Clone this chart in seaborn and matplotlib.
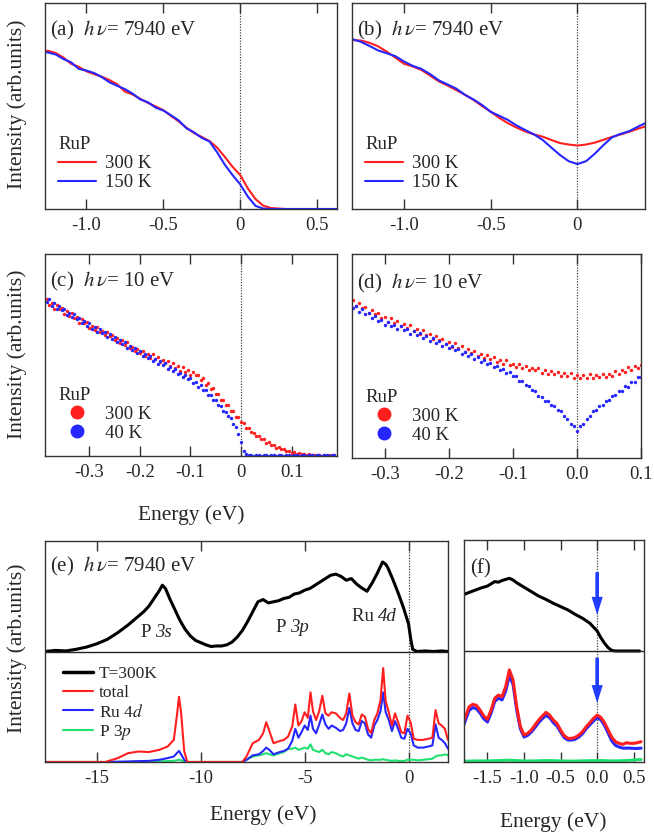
import numpy as np
import matplotlib
matplotlib.use("Agg")
import matplotlib.pyplot as plt
from matplotlib.lines import Line2D
import seaborn as sns

# ---------------- data (intensity as fraction of panel height) ----------------
# (a) hv = 7940 eV, raw EDCs
e_a = np.round(np.linspace(-1.30, 0.65, 40), 3)
a_300 = [0.765, 0.768, 0.757, 0.735, 0.705, 0.690, 0.668, 0.655, 0.642, 0.626,
         0.605, 0.570, 0.556, 0.535, 0.515, 0.498, 0.480, 0.452, 0.425, 0.395,
         0.368, 0.350, 0.330, 0.298, 0.253, 0.205, 0.165, 0.100, 0.048, 0.016,
         0.005, 0.002, 0.0, 0.0, 0.0, 0.0, 0.0, 0.0, 0.0, 0.0]
a_150 = [0.762, 0.760, 0.750, 0.728, 0.712, 0.680, 0.672, 0.660, 0.640, 0.615,
         0.598, 0.582, 0.560, 0.532, 0.518, 0.492, 0.478, 0.455, 0.430, 0.392,
         0.372, 0.345, 0.328, 0.275, 0.215, 0.165, 0.120, 0.060, 0.015, 0.002,
         0.0, 0.0, 0.0, 0.0, 0.0, 0.0, 0.0, 0.0, 0.0, 0.0]

# (b) hv = 7940 eV, symmetrized
e_b = np.round(np.linspace(-1.30, 0.40, 35), 3)
b_300 = [0.820, 0.818, 0.807, 0.790, 0.764, 0.735, 0.705, 0.692, 0.675, 0.648,
         0.620, 0.600, 0.578, 0.555, 0.530, 0.500, 0.472, 0.442, 0.416, 0.395,
         0.376, 0.362, 0.351, 0.335, 0.320, 0.313, 0.308, 0.313, 0.322, 0.336,
         0.350, 0.362, 0.375, 0.390, 0.403]
b_150 = [0.825, 0.812, 0.792, 0.770, 0.756, 0.742, 0.716, 0.695, 0.680, 0.655,
         0.625, 0.605, 0.585, 0.555, 0.532, 0.505, 0.472, 0.452, 0.432, 0.405,
         0.383, 0.362, 0.335, 0.298, 0.262, 0.232, 0.218, 0.232, 0.268, 0.310,
         0.348, 0.365, 0.378, 0.400, 0.420]

# (c) hv = 10 eV, raw
e_c = np.round(np.linspace(-0.385, 0.185, 115), 3)
c_300 = [0.775, 0.746, 0.757, 0.729, 0.749, 0.726, 0.733, 0.703, 0.717, 0.693,
         0.706, 0.682, 0.686, 0.660, 0.676, 0.657, 0.664, 0.635, 0.643, 0.622,
         0.637, 0.614, 0.621, 0.597, 0.614, 0.593, 0.599, 0.575, 0.583, 0.559,
         0.573, 0.551, 0.562, 0.534, 0.540, 0.518, 0.532, 0.510, 0.518, 0.493,
         0.506, 0.487, 0.503, 0.481, 0.489, 0.464, 0.477, 0.459, 0.470, 0.446,
         0.461, 0.438, 0.446, 0.422, 0.441, 0.417, 0.425, 0.403, 0.417, 0.401,
         0.401, 0.375, 0.384, 0.353, 0.359, 0.333, 0.337, 0.308, 0.308, 0.279,
         0.279, 0.254, 0.253, 0.224, 0.222, 0.195, 0.191, 0.166, 0.163, 0.140,
         0.138, 0.117, 0.115, 0.098, 0.099, 0.083, 0.082, 0.066, 0.068, 0.055,
         0.055, 0.042, 0.043, 0.033, 0.033, 0.024, 0.024, 0.016, 0.018, 0.012,
         0.014, 0.008, 0.010, 0.006, 0.008, 0.004, 0.006, 0.003, 0.005, 0.002,
         0.004, 0.002, 0.003, 0.001, 0.003]
c_40 = [0.762, 0.775, 0.745, 0.755, 0.727, 0.744, 0.721, 0.727, 0.699, 0.710,
        0.687, 0.702, 0.678, 0.684, 0.656, 0.667, 0.646, 0.657, 0.629, 0.637,
        0.613, 0.629, 0.608, 0.614, 0.589, 0.604, 0.580, 0.587, 0.562, 0.575,
        0.555, 0.562, 0.533, 0.544, 0.523, 0.535, 0.512, 0.518, 0.493, 0.505,
        0.486, 0.496, 0.471, 0.479, 0.457, 0.470, 0.452, 0.459, 0.433, 0.442,
        0.422, 0.432, 0.406, 0.413, 0.390, 0.402, 0.382, 0.387, 0.363, 0.368,
        0.343, 0.351, 0.329, 0.328, 0.302, 0.301, 0.277, 0.275, 0.250, 0.247,
        0.223, 0.218, 0.196, 0.186, 0.158, 0.143, 0.109, 0.068, 0.027, 0.010,
        0.007, 0.004, 0.002, 0.003, 0.005, 0.002, 0.003, 0.004, 0.002, 0.003,
        0.004, 0.002, 0.003, 0.005, 0.002, 0.003, 0.004, 0.002, 0.003, 0.004,
        0.002, 0.003, 0.005, 0.002, 0.003, 0.004, 0.002, 0.003, 0.004, 0.002,
        0.003, 0.004, 0.002, 0.003, 0.004]

# (d) hv = 10 eV, symmetrized
e_d = np.round(np.linspace(-0.35, 0.10, 91), 3)
d_300 = [0.773, 0.747, 0.761, 0.735, 0.742, 0.713, 0.725, 0.705, 0.713, 0.685,
         0.692, 0.669, 0.686, 0.664, 0.671, 0.646, 0.658, 0.639, 0.650, 0.625,
         0.632, 0.610, 0.626, 0.602, 0.609, 0.583, 0.598, 0.577, 0.584, 0.559,
         0.568, 0.546, 0.562, 0.540, 0.547, 0.521, 0.535, 0.516, 0.526, 0.502,
         0.511, 0.489, 0.504, 0.486, 0.496, 0.472, 0.482, 0.461, 0.478, 0.456,
         0.463, 0.444, 0.459, 0.440, 0.451, 0.429, 0.443, 0.429, 0.440, 0.417,
         0.429, 0.411, 0.426, 0.411, 0.423, 0.401, 0.415, 0.400, 0.415, 0.394,
         0.405, 0.390, 0.409, 0.394, 0.412, 0.393, 0.409, 0.398, 0.413, 0.395,
         0.411, 0.402, 0.425, 0.414, 0.433, 0.420, 0.445, 0.433, 0.451, 0.439,
         0.458]
d_40 = [0.735, 0.745, 0.716, 0.730, 0.706, 0.711, 0.684, 0.696, 0.674, 0.678,
        0.652, 0.668, 0.646, 0.654, 0.633, 0.647, 0.627, 0.634, 0.610, 0.622,
        0.604, 0.615, 0.590, 0.597, 0.575, 0.588, 0.566, 0.574, 0.549, 0.559,
        0.539, 0.548, 0.528, 0.534, 0.510, 0.519, 0.499, 0.509, 0.487, 0.494,
        0.471, 0.479, 0.460, 0.466, 0.444, 0.449, 0.430, 0.436, 0.416, 0.420,
        0.403, 0.401, 0.379, 0.377, 0.357, 0.354, 0.333, 0.327, 0.306, 0.301,
        0.281, 0.277, 0.258, 0.253, 0.234, 0.230, 0.205, 0.192, 0.167, 0.155,
        0.132, 0.155, 0.166, 0.191, 0.204, 0.229, 0.235, 0.255, 0.260, 0.280,
        0.286, 0.306, 0.308, 0.329, 0.329, 0.351, 0.350, 0.374, 0.373, 0.397,
        0.396]

# (e) valence band (upper half) and calculated DOS (lower half)
e_spec = [-17.5, -17.0, -16.5, -16.0, -15.5, -15.0, -14.5, -14.0, -13.5, -13.0,
          -12.75, -12.5, -12.25, -12.0, -11.85, -11.7, -11.5, -11.25, -11.0, -10.75,
          -10.5, -10.25, -10.0, -9.75, -9.5, -9.25, -9.0, -8.75, -8.5, -8.25,
          -8.0, -7.75, -7.5, -7.25, -7.0, -6.75, -6.5, -6.25, -6.0, -5.75,
          -5.5, -5.25, -5.0, -4.75, -4.5, -4.25, -4.0, -3.75, -3.5, -3.25,
          -3.0, -2.75, -2.5, -2.25, -2.0, -1.75, -1.5, -1.25, -1.1, -1.0,
          -0.75, -0.5, -0.25, 0.0, 0.1, 0.2, 0.4, 0.8, 1.2, 1.6,
          1.9]
i_spec = [0.00, 0.01, 0.005, 0.02, 0.04, 0.07, 0.11, 0.17, 0.24, 0.32,
          0.36, 0.41, 0.48, 0.55, 0.60, 0.57, 0.48, 0.38, 0.28, 0.20,
          0.14, 0.10, 0.08, 0.06, 0.045, 0.05, 0.05, 0.06, 0.085, 0.13,
          0.19, 0.27, 0.36, 0.45, 0.47, 0.44, 0.45, 0.46, 0.48, 0.49,
          0.52, 0.53, 0.555, 0.57, 0.60, 0.63, 0.66, 0.69, 0.70, 0.68,
          0.645, 0.66, 0.61, 0.575, 0.545, 0.62, 0.71, 0.81, 0.79, 0.76,
          0.65, 0.53, 0.40, 0.25, 0.12, 0.02, 0.0, 0.005, 0.0, 0.005,
          0.0]

e_dos = [-17.5, -14.6, -14.0, -13.5, -13.0, -12.5, -12.0, -11.6, -11.3, -11.15,
         -11.05, -10.95, -10.8, -10.65, -8.0, -7.8, -7.5, -7.2, -7.0, -6.85,
         -6.7, -6.5, -6.2, -6.0, -5.8, -5.6, -5.45, -5.3, -5.15, -5.0,
         -4.85, -4.72, -4.6, -4.45, -4.3, -4.15, -4.0, -3.85, -3.7, -3.5,
         -3.3, -3.15, -3.0, -2.85, -2.7, -2.55, -2.4, -2.25, -2.1, -1.95,
         -1.8, -1.65, -1.5, -1.35, -1.22, -1.1, -0.95, -0.8, -0.65, -0.5,
         -0.35, -0.2, -0.05, 0.1, 0.25, 0.45, 0.7, 0.95, 1.15, 1.3,
         1.45, 1.6, 1.75, 1.9]
dos_total = [0, 0, 0.035, 0.08, 0.095, 0.09, 0.11, 0.14, 0.20, 0.42,
             0.59, 0.45, 0.10, 0, 0, 0.05, 0.17, 0.20, 0.26, 0.36,
             0.28, 0.17, 0.19, 0.20, 0.23, 0.32, 0.52, 0.33, 0.37, 0.45,
             0.40, 0.63, 0.46, 0.38, 0.46, 0.60, 0.44, 0.42, 0.45, 0.44,
             0.40, 0.38, 0.44, 0.62, 0.42, 0.36, 0.34, 0.43, 0.41, 0.30,
             0.26, 0.38, 0.44, 0.56, 0.85, 0.55, 0.45, 0.33, 0.44, 0.36,
             0.27, 0.26, 0.42, 0.36, 0.21, 0.20, 0.20, 0.21, 0.22, 0.47,
             0.35, 0.33, 0.30, 0.20]
dos_ru4d = [0, 0, 0.003, 0.005, 0.008, 0.01, 0.02, 0.035, 0.05, 0.08,
            0.10, 0.07, 0.02, 0, 0, 0.02, 0.06, 0.07, 0.10, 0.13,
            0.11, 0.07, 0.09, 0.10, 0.12, 0.19, 0.30, 0.22, 0.27, 0.33,
            0.29, 0.42, 0.30, 0.26, 0.34, 0.43, 0.34, 0.30, 0.33, 0.31,
            0.28, 0.29, 0.35, 0.49, 0.35, 0.29, 0.28, 0.37, 0.35, 0.25,
            0.22, 0.33, 0.38, 0.46, 0.63, 0.45, 0.38, 0.28, 0.37, 0.30,
            0.22, 0.21, 0.30, 0.26, 0.15, 0.13, 0.13, 0.14, 0.15, 0.34,
            0.22, 0.20, 0.17, 0.12]
dos_p3p = [0, 0, 0, 0, 0.003, 0.003, 0.005, 0.008, 0.01, 0.015,
           0.02, 0.015, 0.005, 0, 0, 0.02, 0.05, 0.06, 0.07, 0.08,
           0.07, 0.06, 0.08, 0.09, 0.12, 0.12, 0.13, 0.11, 0.12, 0.13,
           0.12, 0.16, 0.11, 0.10, 0.09, 0.11, 0.08, 0.07, 0.09, 0.08,
           0.06, 0.05, 0.07, 0.06, 0.05, 0.04, 0.03, 0.04, 0.03, 0.02,
           0.015, 0.02, 0.02, 0.02, 0.025, 0.02, 0.015, 0.01, 0.015, 0.01,
           0.01, 0.01, 0.02, 0.02, 0.02, 0.015, 0.02, 0.025, 0.03, 0.05,
           0.06, 0.06, 0.07, 0.06]

# (f) zoom near E_F
e_fspec = [-1.82, -1.7, -1.6, -1.5, -1.4, -1.35, -1.3, -1.2, -1.15, -1.1,
           -1.0, -0.9, -0.8, -0.7, -0.6, -0.5, -0.4, -0.3, -0.2, -0.1,
           0.0, 0.05, 0.1, 0.15, 0.2, 0.25, 0.4, 0.58]
i_fspec = [0.51, 0.54, 0.565, 0.585, 0.625, 0.62, 0.635, 0.655, 0.64, 0.615,
           0.575, 0.535, 0.495, 0.465, 0.43, 0.40, 0.37, 0.33, 0.295, 0.25,
           0.18, 0.12, 0.07, 0.03, 0.005, 0.0, 0.0, 0.0]
e_fdos = [-1.82, -1.75, -1.7, -1.65, -1.6, -1.55, -1.5, -1.45, -1.4, -1.35,
          -1.3, -1.25, -1.2, -1.15, -1.1, -1.05, -1.0, -0.95, -0.9, -0.85,
          -0.8, -0.75, -0.7, -0.65, -0.6, -0.55, -0.5, -0.45, -0.4, -0.35,
          -0.3, -0.25, -0.2, -0.15, -0.1, -0.05, 0.0, 0.05, 0.1, 0.15,
          0.2, 0.25, 0.3, 0.35, 0.4, 0.45, 0.5, 0.55, 0.6]
f_total = [0.372, 0.498, 0.52, 0.51, 0.468, 0.414, 0.385, 0.468, 0.573, 0.603,
           0.588, 0.68, 0.83, 0.74, 0.50, 0.32, 0.243, 0.258, 0.288, 0.333,
           0.378, 0.414, 0.447, 0.423, 0.378, 0.348, 0.288, 0.237, 0.213, 0.213,
           0.222, 0.243, 0.273, 0.318, 0.354, 0.393, 0.423, 0.402, 0.354, 0.288,
           0.222, 0.183, 0.168, 0.159, 0.174, 0.168, 0.168, 0.174, 0.183]
f_ru4d = [0.34, 0.465, 0.49, 0.48, 0.44, 0.39, 0.36, 0.44, 0.545, 0.575,
          0.56, 0.64, 0.78, 0.70, 0.47, 0.30, 0.225, 0.24, 0.27, 0.31,
          0.355, 0.39, 0.42, 0.40, 0.355, 0.325, 0.27, 0.22, 0.198, 0.198,
          0.205, 0.225, 0.255, 0.30, 0.335, 0.37, 0.40, 0.38, 0.33, 0.26,
          0.19, 0.15, 0.135, 0.125, 0.125, 0.125, 0.122, 0.122, 0.125]
f_p3p = [0.008, 0.008, 0.009, 0.009, 0.010, 0.010, 0.010, 0.011, 0.012, 0.013,
         0.014, 0.015, 0.016, 0.015, 0.013, 0.011, 0.010, 0.009, 0.009, 0.010,
         0.011, 0.012, 0.013, 0.013, 0.012, 0.011, 0.010, 0.009, 0.008, 0.008,
         0.008, 0.009, 0.010, 0.011, 0.012, 0.012, 0.013, 0.013, 0.012, 0.011,
         0.010, 0.010, 0.011, 0.012, 0.013, 0.015, 0.018, 0.021, 0.022]

ticks_a = ([-1.0, -0.5, 0, 0.5], ["-1.0", "-0.5", "0", "0.5"])
ticks_b = ([-1.0, -0.5, 0], ["-1.0", "-0.5", "0"])
ticks_c = ([-0.3, -0.2, -0.1, 0, 0.1], ["-0.3", "-0.2", "-0.1", "0", "0.1"])
ticks_d = ([-0.3, -0.2, -0.1, 0, 0.1], ["-0.3", "-0.2", "-0.1", "0.0", "0.1"])
ticks_e = ([-15, -10, -5, 0], ["-15", "-10", "-5", "0"])
ticks_f = ([-1.5, -1.0, -0.5, 0, 0.5], ["-1.5", "-1.0", "-0.5", "0.0", "0.5"])

# ---------------- style ----------------
SERIF = ["Liberation Serif", "DejaVu Serif"]
sns.set_style("ticks")
plt.rcParams["font.family"] = SERIF
plt.rcParams["font.serif"] = SERIF
plt.rcParams["mathtext.fontset"] = "stix"
plt.rcParams["axes.unicode_minus"] = False
plt.rcParams["axes.edgecolor"] = "#333333"
plt.rcParams["axes.linewidth"] = 1.0

RED = "#ff1f1f"
BLUE = "#2626ff"
GREEN = "#20e070"
ARROW = "#1f3cff"

W, H = 654, 836
fig = plt.figure(figsize=(W / 100, H / 100), dpi=100)


def px_axes(x0, y0, x1, y1):
    return fig.add_axes([x0 / W, 1 - y1 / H, (x1 - x0) / W, (y1 - y0) / H])


def style(ax, xlim, ylim, ticks):
    ax.set_xlim(xlim)
    ax.set_ylim(ylim)
    ax.set_xticks(ticks[0], ticks[1], fontfamily=SERIF, fontsize=13.5)
    ax.tick_params(axis="x", direction="in", top=True, bottom=True, length=7,
                   width=1, color="#333333", pad=6)
    ax.tick_params(axis="y", left=False, labelleft=False)
    ax.set_xlabel("")
    ax.set_ylabel("")
    ax.axvline(0, color="#444444", lw=0.9, ls=(0, (1, 1.2)), zorder=0)


def rup_legend(ax, handles, anchor):
    ax.legend(handles=handles, title="RuP", loc="lower left", bbox_to_anchor=anchor,
              frameon=False, prop={"family": SERIF, "size": 13.5},
              title_fontproperties={"family": SERIF, "size": 13.5}, alignment="left",
              handlelength=2.0, handletextpad=0.5, labelspacing=0.1,
              borderaxespad=0, borderpad=0)


def peak_label(ax, x, y, roman, italic):
    ax.text(x, y, roman, fontsize=13.5, ha="right", va="center", family=SERIF)
    ax.text(x, y, italic, fontsize=13.5, ha="left", va="center", family=SERIF,
            style="italic")


ax_a = px_axes(45, 3, 337, 209)
ax_b = px_axes(352, 3, 645, 209)
ax_c = px_axes(45, 254, 337, 456)
ax_d = px_axes(352, 254, 641, 458)
ax_e = px_axes(45, 541, 448, 762)
ax_f = px_axes(464, 540, 644, 762)

# (a)
sns.lineplot(x=e_a, y=a_300, ax=ax_a, color=RED, lw=1.5, legend=False)
sns.lineplot(x=e_a, y=a_150, ax=ax_a, color=BLUE, lw=1.5, legend=False)
style(ax_a, (-1.27, 0.63), (0, 1), ticks_a)
# (b)
sns.lineplot(x=e_b, y=b_300, ax=ax_b, color=RED, lw=1.5, legend=False)
sns.lineplot(x=e_b, y=b_150, ax=ax_b, color=BLUE, lw=1.5, legend=False)
style(ax_b, (-1.30, 0.39), (0, 1), ticks_b)
# (c)
sns.scatterplot(x=e_c, y=c_300, ax=ax_c, color=RED, s=6, linewidth=0, legend=False)
sns.scatterplot(x=e_c, y=c_40, ax=ax_c, color=BLUE, s=6, linewidth=0, legend=False)
style(ax_c, (-0.388, 0.19), (0, 1), ticks_c)
# (d)
sns.scatterplot(x=e_d, y=d_300, ax=ax_d, color=RED, s=6, linewidth=0, legend=False)
sns.scatterplot(x=e_d, y=d_40, ax=ax_d, color=BLUE, s=6, linewidth=0, legend=False)
style(ax_d, (-0.351, 0.10), (0, 1), ticks_d)

for ax in (ax_a, ax_b):
    rup_legend(ax, [Line2D([], [], color=RED, lw=1.5, label="300 K"),
                    Line2D([], [], color=BLUE, lw=1.5, label="150 K")], (0.045, 0.085))
for ax in (ax_c, ax_d):
    rup_legend(ax, [Line2D([], [], color=RED, marker="o", ls="", ms=9, label="300 K"),
                    Line2D([], [], color=BLUE, marker="o", ls="", ms=9, label="40 K")],
               (0.045, 0.07))

ax_a.text(0.017, 0.84, r"(a)  $h\,\nu$= 7940 eV", transform=ax_a.transAxes, fontsize=15, va="baseline")
ax_b.text(0.017, 0.84, r"(b)  $h\,\nu$= 7940 eV", transform=ax_b.transAxes, fontsize=15, va="baseline")
ax_c.text(0.017, 0.837, r"(c)  $h\,\nu$= 10 eV", transform=ax_c.transAxes, fontsize=15, va="baseline")
ax_d.text(0.017, 0.83, r"(d)  $h\,\nu$= 10 eV", transform=ax_d.transAxes, fontsize=15, va="baseline")

# (e)
sns.lineplot(x=e_spec, y=np.array(i_spec) + 1, ax=ax_e, color="black", lw=2.2, legend=False)
sns.lineplot(x=e_dos, y=dos_p3p, ax=ax_e, color=GREEN, lw=1.5, legend=False)
sns.lineplot(x=e_dos, y=dos_ru4d, ax=ax_e, color=BLUE, lw=1.5, legend=False)
sns.lineplot(x=e_dos, y=dos_total, ax=ax_e, color=RED, lw=1.5, legend=False)
style(ax_e, (-17.5, 1.9), (0, 2), ticks_e)
ax_e.axhline(1, color="#222222", lw=1.0)
ax_e.text(0.012, 0.861, r"(e)  $h\,\nu$= 7940 eV", transform=ax_e.transAxes, fontsize=15, va="baseline")
peak_label(ax_e, -12.2, 1.17, "P ", "3s")
peak_label(ax_e, -5.7, 1.215, "P ", "3p")
peak_label(ax_e, -1.45, 1.32, "Ru ", "4d")
ax_e.legend(handles=[Line2D([], [], color="black", lw=2.5, label="T=300K"),
                     Line2D([], [], color=RED, lw=1.5, label="total"),
                     Line2D([], [], color=BLUE, lw=1.5, label=r"Ru 4$\mathit{d}$"),
                     Line2D([], [], color=GREEN, lw=1.5, label=r"P 3$\mathit{p}$")],
            loc="lower left", bbox_to_anchor=(0.045, 0.09), frameon=False,
            prop={"family": SERIF, "size": 12.5},
            handlelength=1.7, handletextpad=0.35, labelspacing=0.15,
            borderaxespad=0, borderpad=0)

# (f)
sns.lineplot(x=e_fspec, y=np.array(i_fspec) + 1, ax=ax_f, color="black", lw=2.2, legend=False)
sns.lineplot(x=e_fdos, y=f_p3p, ax=ax_f, color=GREEN, lw=2.2, legend=False)
sns.lineplot(x=e_fdos, y=f_ru4d, ax=ax_f, color=BLUE, lw=2.2, legend=False)
sns.lineplot(x=e_fdos, y=f_total, ax=ax_f, color=RED, lw=2.2, legend=False)
style(ax_f, (-1.82, 0.64), (0, 2), ticks_f)
ax_f.axhline(1, color="#222222", lw=1.0)
ax_f.text(0.033, 0.85, "(f)", transform=ax_f.transAxes, fontsize=15, va="baseline")
for top, tip in ((1.71, 1.325), (0.94, 0.53)):
    ax_f.annotate("", xy=(0, tip), xytext=(0, top),
                  arrowprops=dict(facecolor=ARROW, edgecolor="none", width=2.6,
                                  headwidth=8, headlength=13, shrink=0))

# shared labels
for yc in (104, 354, 648):
    fig.text(17 / W, 1 - yc / H, "Intensity (arb.units)", rotation=90,
             ha="center", va="center", fontsize=15.5)
for xc, yc in ((191, 515), (263, 815), (553, 822)):
    fig.text(xc / W, 1 - yc / H, "Energy (eV)", ha="center", va="center", fontsize=15.5)

fig.savefig("out.png", dpi=100)
